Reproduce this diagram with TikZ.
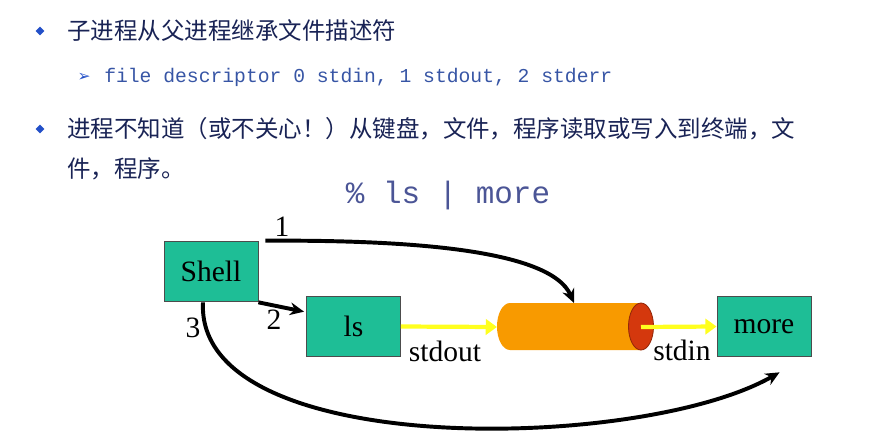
\documentclass[tikz,border=0pt]{standalone}
\usepackage{fontspec}
\setmainfont{Liberation Serif}
\setmonofont{Liberation Mono}
\newfontfamily\cjk{Noto Sans CJK SC}
\newfontfamily\symfont{DejaVu Sans}
\usetikzlibrary{calc,shapes.geometric,arrows.meta}
\definecolor{procgreen}{RGB}{30,190,150}
\definecolor{pipeorange}{RGB}{248,154,0}
\definecolor{pipered}{RGB}{212,56,13}
\definecolor{flowyellow}{RGB}{255,255,30}
\definecolor{textnavy}{RGB}{25,35,85}
\definecolor{monoblue}{RGB}{55,85,165}
\definecolor{cmdblue}{RGB}{75,85,150}
\definecolor{bulletblue}{RGB}{35,80,200}
\tikzset{
  proc/.style={draw=black!70, line width=0.6pt, fill=procgreen, minimum width=2.35cm, minimum height=1.52cm, inner sep=0pt, font=\fontsize{21}{24}\selectfont},
  lbl/.style={font=\fontsize{21}{24}\selectfont, inner sep=0pt},
  fd/.style={line width=2.8pt, -{Stealth[length=10pt,width=9pt]}},
  flow/.style={draw=flowyellow, line width=3pt, -{Triangle[length=8pt,width=11pt]}},
  bullet/.style={diamond, fill=bulletblue, minimum size=0.22cm, inner sep=0pt},
  cn/.style={font=\cjk\fontsize{16.7}{20}\selectfont, text=textnavy, anchor=west, inner sep=0pt}
}
\begin{document}
\begin{tikzpicture}[x=0.025cm, y=-0.025cm]
		%%%%% START %%%%%
		\useasboundingbox (0,0) rectangle (871,436);
		
		% text lines
		\node[bullet] (b1) at (40,31) {};
		\node[cn] (line1) at (67,31) {子进程从父进程继承文件描述符};
		\node[font=\symfont\fontsize{11}{13}\selectfont, text=bulletblue, inner sep=0pt] (b2) at (84,77) {➢};
		\node[font=\ttfamily\fontsize{14}{17}\selectfont, text=monoblue, anchor=west, inner sep=0pt] (line2) at (104,77) {file descriptor 0 stdin, 1 stdout, 2 stderr};
		\node[bullet] (b3) at (40,129) {};
		\node[cn] (line3) at (67,129) {进程不知道（或不关心！）从键盘，文件，程序读取或写入到终端，文};
		\node[cn] (line4) at (67,169) {件，程序。};
		
		\node[font=\ttfamily\fontsize{22}{26}\selectfont, text=cmdblue, inner sep=0pt] (cmd) at (448,195) {\% ls | more};
		
		% processes
		\node[proc] (shell) at (211,271.5) {Shell};
		\node[proc] (ls) at (353.5,326.5) {ls};
		\node[proc] (more) at (764,326.5) {more};
		
		% pipe
		\fill[pipeorange] (641,303) -- (510,303) arc[start angle=270, end angle=90, x radius=13, y radius=23.5] -- (641,350) -- cycle;
		\draw[fill=pipered, draw=pipered!70!black, line width=0.6pt] (641,326.5) ellipse [x radius=12.5, y radius=23.5];
		\coordinate (pipeL) at (497,327);
		\coordinate (pipeR) at (641,327);
		\coordinate (pipeT) at (574,303);
		
		\draw[flow] (ls.east) -- (pipeL);
		\draw[flow] (pipeR) -- (more.west);
		\node[lbl] (outlbl) at (445,351) {stdout};
		\node[lbl] (inlbl) at (682,350) {stdin};
		
		% file descriptors
		\draw[fd] ($(shell.north east)+(7,0)$) .. controls (400,240) and (550,248) .. (pipeT);
		\draw[fd] (shell.south east) -- ($(ls.north west)+(-2,16)$);
		\draw[fd] ($(shell.south)+(-8,0)$) .. controls (195,460) and (640,452) .. ($(more.south west)+(63,15)$);
		\node[lbl] (one) at (282,227) {1};
		\node[lbl] (two) at (274,320) {2};
		\node[lbl] (three) at (193,328) {3};
		
		%%%%% END %%%%%
	\end{tikzpicture}
\end{document}
